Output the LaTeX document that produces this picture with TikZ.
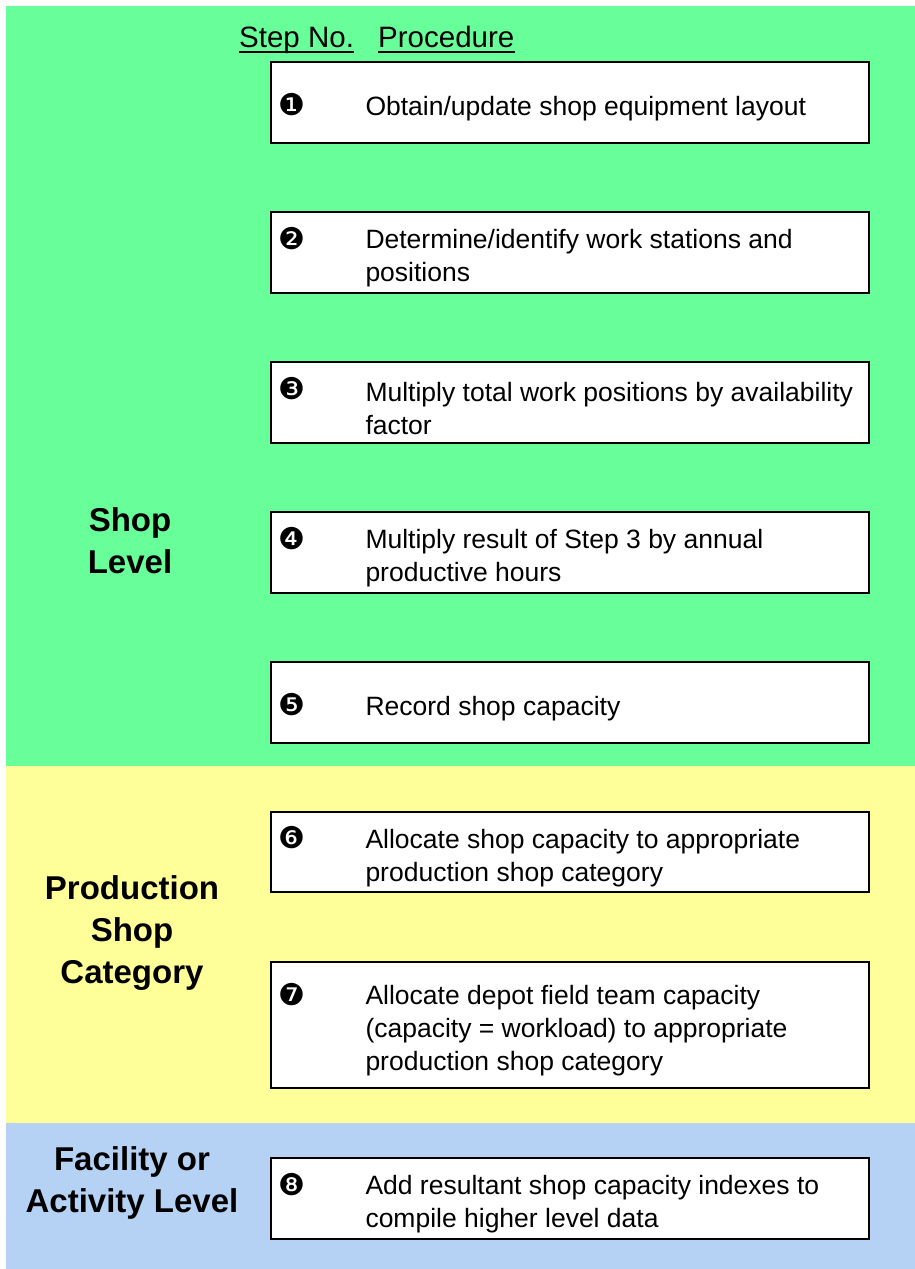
\documentclass[tikz,border=0pt]{standalone}
\usepackage{fontspec}
\setmainfont{Liberation Sans}
\newfontfamily\dingfont{DejaVu Sans}
\usetikzlibrary{shadows}
\definecolor{greenband}{RGB}{104,255,154}
\definecolor{yellowband}{RGB}{255,255,153}
\definecolor{blueband}{RGB}{181,210,244}
\tikzset{
  stepbox/.style={draw=black,line width=1.4pt,fill=white,inner sep=0pt,
    minimum width=598pt,drop shadow={shadow xshift=1.2pt,shadow yshift=-1.2pt,fill=gray!70,opacity=1}},
  steptext/.style={align=left,inner sep=0pt,font=\fontsize{26.5}{33}\selectfont},
  stepnum/.style={inner sep=0pt,font=\dingfont\fontsize{30}{30}\selectfont},
  lvl/.style={align=center,inner sep=0pt,font=\fontsize{33}{42}\selectfont\bfseries},
  hdr/.style={inner sep=0pt,font=\fontsize{29.5}{33}\selectfont}
}
\begin{document}
\begin{tikzpicture}[x=1pt,y=-1pt]
            \useasboundingbox (0,0) rectangle (915,1269);
            % coloured bands
            \fill[greenband] (6,6) rectangle (915,766);
            \fill[yellowband] (6,766) rectangle (915,1123);
            \fill[blueband] (6,1123) rectangle (915,1269);
            % header
            \node[hdr,anchor=base west] (stepno) at (239,47) {Step No.};
            \node[hdr,anchor=base west] (proc) at (378,47) {Procedure};
            \draw[line width=2pt] ([yshift=-5pt]stepno.base west)--([yshift=-5pt]stepno.base east);
            \draw[line width=2pt] ([yshift=-5pt]proc.base west)--([yshift=-5pt]proc.base east);
            % steps
            \foreach \n/\ytop/\hgt/\nl/\dg/\txt in {
                1/62/81/1/{❶}/{Obtain/update shop equipment layout},
                2/212/81/2/{❷}/{Determine/identify work stations and\\positions},
                3/362/81/2/{❸}/{Multiply total work positions by availability\\factor},
                4/512/81/2/{❹}/{Multiply result of Step 3 by annual\\productive hours},
                5/662/81/1/{❺}/{Record shop capacity},
                6/812/80/2/{❻}/{Allocate shop capacity to appropriate\\production shop category},
                7/962/126/3/{❼}/{Allocate depot field team capacity\\(capacity = workload) to appropriate\\production shop category},
                8/1158/81/2/{❽}/{Add resultant shop capacity indexes to\\compile higher level data}}
            {
            \node[stepbox,minimum height=\hgt pt] (s\n) at (570,{\ytop+\hgt/2}) {};
            \node[steptext,anchor=west] (t\n) at ([xshift=95pt,yshift=-6pt]s\n.west) {\txt};
            \node[stepnum] (n\n) at ([xshift=22pt,yshift={(\nl-1)*16.5pt-2.5pt}]s\n.west) {\dg};
            }
            % levels
            \node[lvl] (shop) at (130,541) {Shop\\Level};
            \node[lvl] (prod) at (132,933) {Production\\Shop\\Category};
            \node[lvl] (fac) at (132,1183) {Facility or\\Activity Level};
\end{tikzpicture}
\end{document}
